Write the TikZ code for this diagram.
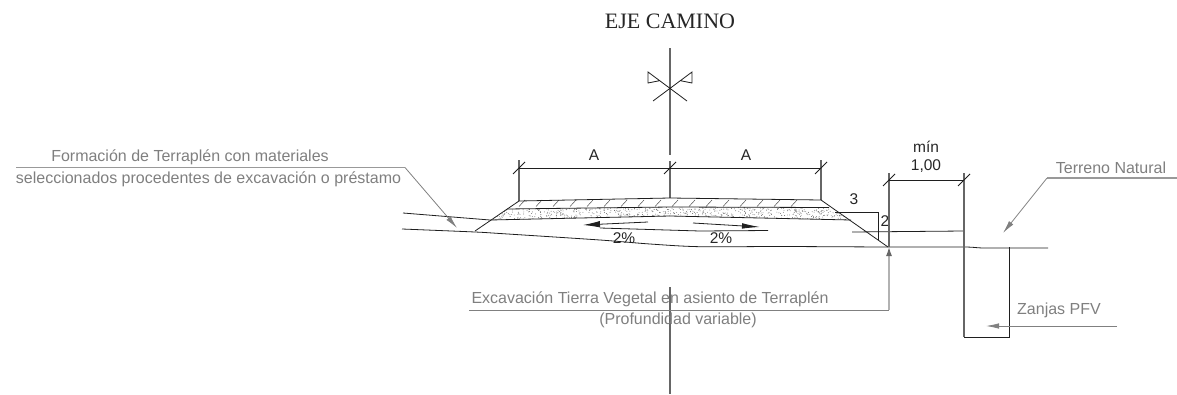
\documentclass[tikz,border=0pt]{standalone}
\usepackage{fontspec}
\setmainfont{Liberation Sans}
\newfontfamily\serifcap{Liberation Serif}
\usetikzlibrary{arrows.meta}
\definecolor{lbl}{HTML}{7F7F7F}
\definecolor{ldr}{HTML}{808080}
\tikzset{
  x=1pt,y=-1pt,
  line/.style={draw=black!88,line width=0.8pt},
  ext/.style={draw=black!60,line width=1.1pt},
  tick/.style={draw=black!88,line width=0.8pt},
  leader/.style={draw=ldr,line width=0.8pt},
  head/.style={-{Latex[length=13pt,width=5.5pt]}},
  label/.style={text=lbl,font=\fontsize{16}{18}\selectfont,inner sep=0pt,anchor=center},
  dimtext/.style={text=black!85,font=\fontsize{15.5}{17}\selectfont,inner sep=0pt,anchor=center}
}
\begin{document}
\begin{tikzpicture}
\useasboundingbox (0,0) rectangle (1177,394);
% title
\node[inner sep=0pt,font=\serifcap\fontsize{22}{24}\selectfont,text=black!85] (title) at (670,21) {EJE CAMINO};
% centre line and symbol
\draw[ext] (670,48) -- (670,155);
\draw[ext] (670,287) -- (670,394);
\draw[line] (653,101) -- (692,72) -- (692,83) -- (680,80.6);
\draw[line] (687,101) -- (648,72) -- (648,83) -- (660,80.6);
% dimensions A
\draw[ext] (519,160) -- (519,201);
\draw[ext] (670,161) -- (670,198);
\draw[ext] (821,160) -- (821,200);
\draw[line] (519,168) -- (821,168);
\foreach \x in {519,670,821} \draw[tick] (\x-6,174) -- (\x+6,162);
\node[dimtext] (a1) at (594,155) {A};
\node[dimtext] (a2) at (746,155) {A};
% stipple
\begin{scope}
\clip (507,209) -- (670,207) -- (828,207.5) -- (851,220) -- (670,216) -- (490,220) -- cycle;
\pgfmathsetseed{4217}
\foreach \i in {1,...,750}{
  \pgfmathsetmacro{\px}{490+360*rnd}
  \pgfmathsetmacro{\py}{207+13*rnd}
  \fill[black!60] (\px,\py) circle (0.45pt);
}
\end{scope}
% hatch
\foreach \x in {519,536,...,805}{
  \draw[line width=0.5pt,draw=black!70] (\x,206.5) -- (\x+6,200);
}
% road section
\draw[line] (519,201) -- (670,198) -- (821,200);
\draw[line] (507,209) -- (670,207) -- (829,207.5);
\draw[line] (403,213) -- (490,220) -- (670,216) -- (851,220);
\draw[line] plot[smooth,tension=0.5] coordinates {(402,229) (475,232) (500,233.5) (600,240) (650,244) (700,246.7) (780,246.5) (889,247) (964,247) (985,248) (1048,248)};
\draw[line] (519,201) -- (475,231);
\draw[line] (821,200) -- (888,247);
\draw[line] (852,232) -- (964,231);
\draw[line] (600,228) -- (700,231) -- (768,230.5);
% slopes
\draw[-{Latex[length=17pt,width=6.5pt]},line] (648,222) -- (583,225);
\draw[-{Latex[length=18pt,width=5.5pt]},line] (693,223) -- (760,227);
\node[dimtext] (p1) at (624,238) {2\%};
\node[dimtext] (p2) at (721,238) {2\%};
% 3:2 triangle
\draw[line] (835,212) -- (878,212) -- (878,240);
\node[dimtext] (t3) at (854,199) {3};
\node[dimtext] (t2) at (885,221) {2};
% min 1,00
\draw[ext] (889,173) -- (889,247);
\draw[ext] (964,173) -- (964,337);
\draw[line] (889,180.5) -- (964,180.5);
\foreach \x in {889,964} \draw[tick] (\x-6,186) -- (\x+6,174);
\node[dimtext] (m1) at (926,147) {mín};
\node[dimtext] (m2) at (926,166) {1,00};
% trench
\draw[line] (964,337) -- (1009,337) -- (1009,247);
% leaders
\coordinate (f1) at (16,167.5);
\coordinate (f2) at (405,167.5);
\coordinate (f3) at (457,228);
\draw[leader,line width=1.1pt,draw=black!40] (f1) -- (f2);
\draw[leader,head] (f2) -- (f3);
\node[label] (form1) at (190,157) {Formación de Terraplén con materiales};
\node[label] (form2) at (208.5,179) {seleccionados procedentes de excavación o préstamo};
\coordinate (e1) at (469,310);
\coordinate (e2) at (889,310);
\coordinate (e3) at (889,247);
\draw[leader] (e1) -- (e2);
\draw[draw=black!30,line width=1.2pt,-{Latex[length=9pt,width=6pt,black!60]}] (e2) -- (e3);
\node[label] (exc1) at (650,299) {Excavación Tierra Vegetal en asiento de Terraplén};
\node[label] (exc2) at (678,320) {(Profundidad variable)};
\coordinate (n1) at (1177,178);
\coordinate (n2) at (1047,178);
\coordinate (n3) at (1003,233);
\draw[leader,line width=1.1pt,draw=black!40] (n1) -- (n2);
\draw[leader,head] (n2) -- (n3);
\node[label] (nat) at (1111,168) {Terreno Natural};
\coordinate (z1) at (1117,326);
\coordinate (z2) at (986,326);
\draw[leader,head] (z1) -- (z2);
\node[label] (zan) at (1059,310) {Zanjas PFV};
\end{tikzpicture}
\end{document}
